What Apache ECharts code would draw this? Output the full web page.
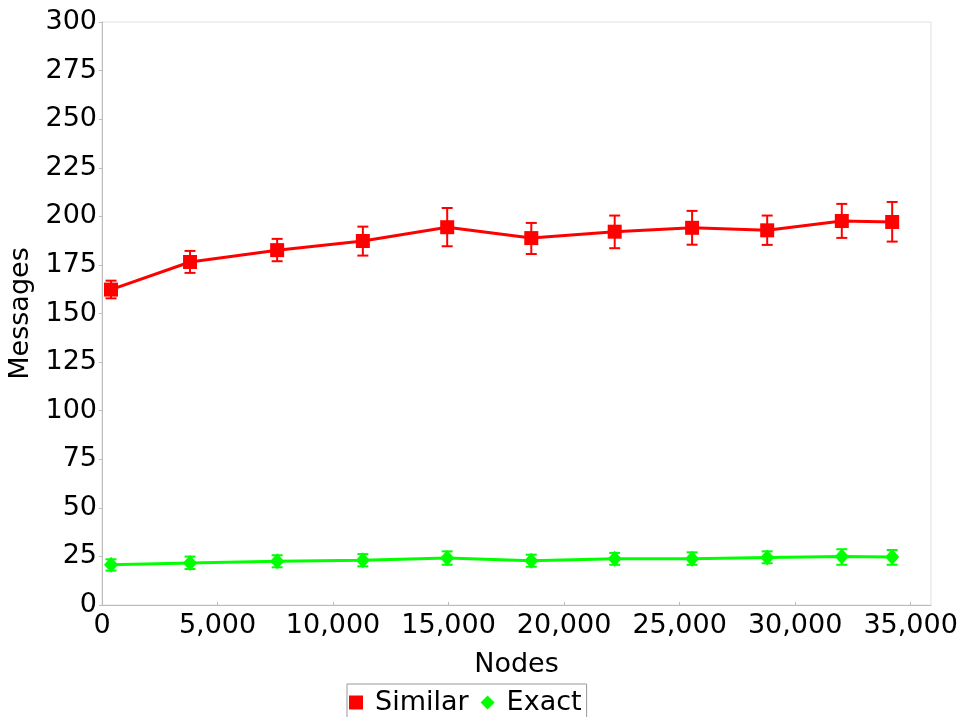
<!DOCTYPE html>
<html>
<head>
<meta charset="utf-8">
<script src="https://cdn.jsdelivr.net/npm/echarts@6/dist/echarts.min.js"></script>
<style>
  html, body { margin: 0; padding: 0; background: #fff; }
  #chart { width: 965px; height: 717px; }
</style>
</head>
<body>
<div id="chart"></div>
<script>
  // 节点数 (x)
  var nodes = [390, 3810, 7580, 11290, 14940, 18580, 22190, 25540, 28790, 32020, 34200]
  // Similar
  var similar = [162.3, 176.5, 182.6, 187.3, 194.4, 188.8, 192.1, 194.1, 192.8, 197.6, 197.1]
  var similarLow = [157.8, 170.9, 176.9, 179.8, 184.6, 180.6, 183.6, 185.4, 185.3, 188.9, 187.0]
  var similarHigh = [166.9, 182.2, 188.4, 194.7, 204.3, 196.6, 200.4, 202.8, 200.4, 206.4, 207.4]
  // Exact
  var exact = [20.7, 21.6, 22.5, 23.0, 24.2, 22.8, 23.8, 23.8, 24.5, 24.9, 24.7]
  var exactLow = [17.7, 18.5, 19.4, 19.9, 20.7, 19.7, 20.7, 20.7, 21.5, 20.7, 20.7]
  var exactHigh = [23.5, 24.9, 25.6, 26.2, 27.6, 25.9, 26.8, 27.1, 27.6, 28.7, 28.3]
  var yTicks = [0, 300, 25]
  var xTicks = [0, 35880, 5000] // 轴的右端比 35,000 稍远

  function pts(v) {
    return nodes.map(function (x, i) { return [x, v[i]] })
  }
  function bars(lo, hi) {
    return nodes.map(function (x, i) { return [x, lo[i], hi[i]] })
  }
  function errorBar(color) {
    return function (params, api) {
      var x = api.value(0)
      var lo = api.coord([x, api.value(1)])
      var hi = api.coord([x, api.value(2)])
      var w = 5.5
      var st = { stroke: color, lineWidth: 2 }
      return {
        type: 'group',
        children: [
          { type: 'line', shape: { x1: lo[0], y1: lo[1], x2: hi[0], y2: hi[1] }, style: st },
          { type: 'line', shape: { x1: lo[0] - w, y1: lo[1], x2: lo[0] + w, y2: lo[1] }, style: st },
          { type: 'line', shape: { x1: hi[0] - w, y1: hi[1], x2: hi[0] + w, y2: hi[1] }, style: st }
        ]
      }
    }
  }

  var font = 'DejaVu Sans'
  var chart = echarts.init(document.getElementById('chart'))
  chart.setOption({
    backgroundColor: '#fff',
    animation: false,
    textStyle: { fontFamily: font },
    grid: {
      left: 102, right: 34, top: 22, bottom: 112,
      outerBoundsMode: 'none',
      show: true, borderColor: '#e0e0e0', borderWidth: 1
    },
    legend: {
      left: 347, top: 684,
      data: [
        { name: 'Similar', icon: 'rect' },
        { name: 'Exact', icon: 'diamond' }
      ],
      itemWidth: 14, itemHeight: 14, itemGap: 12,
      padding: [5, 5, 20, 2],
      borderColor: '#999', borderWidth: 1,
      textStyle: { fontSize: 27, color: '#000', fontFamily: font, padding: [0, 0, 0, 7] }
    },
    xAxis: {
      type: 'value',
      min: xTicks[0], max: xTicks[1], interval: xTicks[2],
      name: 'Nodes', nameLocation: 'middle', nameGap: 46,
      nameTextStyle: { fontSize: 27, color: '#000', fontFamily: font },
      axisLine: { lineStyle: { color: '#bbb' } },
      axisTick: { show: true, inside: true, length: 3, lineStyle: { color: '#bbb' } },
      splitLine: { show: false },
      axisLabel: {
        fontSize: 27, color: '#000', margin: 7, fontFamily: font, showMaxLabel: false,
        formatter: function (v) { return v.toLocaleString('en-US') }
      }
    },
    yAxis: {
      type: 'value',
      min: yTicks[0], max: yTicks[1], interval: yTicks[2],
      name: 'Messages', nameLocation: 'middle', nameGap: 64,
      nameTextStyle: { fontSize: 27, color: '#000', fontFamily: font },
      axisLine: { show: true, lineStyle: { color: '#bbb' } },
      axisTick: { show: true, length: 3, lineStyle: { color: '#bbb' } },
      splitLine: { show: false },
      axisLabel: { fontSize: 27, color: '#000', margin: 5, fontFamily: font }
    },
    series: [
      {
        name: 'Similar', type: 'line', data: pts(similar),
        symbol: 'rect', symbolSize: 14,
        itemStyle: { color: '#ff0000' },
        lineStyle: { color: '#ff0000', width: 3 },
        z: 3
      },
      {
        name: 'Exact', type: 'line', data: pts(exact),
        symbol: 'diamond', symbolSize: [14, 16],
        itemStyle: { color: '#00ff00' },
        lineStyle: { color: '#00ff00', width: 3 },
        z: 3
      },
      {
        name: 'Similar', type: 'custom', data: bars(similarLow, similarHigh),
        renderItem: errorBar('#ff0000'), encode: { x: 0, y: [1, 2] }, z: 2,
        itemStyle: { color: '#ff0000' }
      },
      {
        name: 'Exact', type: 'custom', data: bars(exactLow, exactHigh),
        renderItem: errorBar('#00ff00'), encode: { x: 0, y: [1, 2] }, z: 2,
        itemStyle: { color: '#00ff00' }
      }
    ]
  })
</script>
</body>
</html>
